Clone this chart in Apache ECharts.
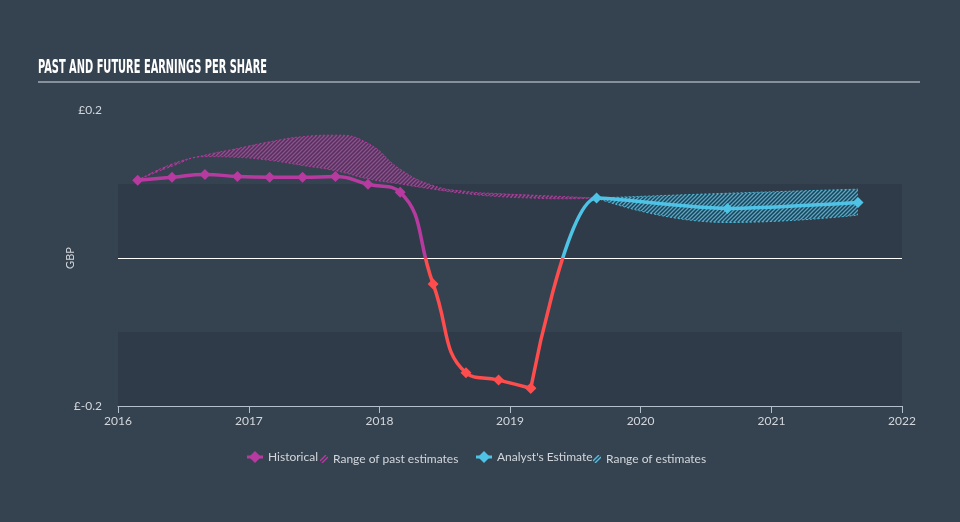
<!DOCTYPE html>
<html><head><meta charset="utf-8">
<script src="https://cdn.jsdelivr.net/npm/echarts@6/dist/echarts.min.js"></script>
<style>html,body{margin:0;padding:0;background:#35424f}#c{width:960px;height:522px}</style>
</head><body><div id="c"></div>
<script>
// ---- data ----
const histDates = ['2016-02-25','2016-05-31','2016-08-31','2016-11-30','2017-02-28','2017-05-31','2017-08-31','2017-11-30','2018-02-28','2018-05-31','2018-08-31','2018-11-30','2019-02-28'];
const histEPS   = [0.105,0.109,0.113,0.110,0.109,0.109,0.110,0.0997,0.089,-0.035,-0.155,-0.165,-0.176];
const pastRangeDates = ['2016-02-25','2016-05-31','2016-08-31','2016-11-30','2017-02-28','2017-05-31','2017-08-31','2017-11-30','2018-02-28','2018-05-31','2018-08-31','2018-11-30','2019-02-28','2019-05-31','2019-08-31'];
const pastRangeLow  = [0.105,0.124,0.137,0.136,0.132,0.125,0.118,0.107,0.100,0.093,0.087,0.083,0.081,0.080,0.081];
const pastRangeHigh = [0.105,0.127,0.139,0.148,0.157,0.164,0.166,0.155,0.120,0.098,0.090,0.087,0.085,0.083,0.081];
const estDates = ['2019-08-31','2020-08-31','2021-08-31'];
const estEPS   = [0.081,0.067,0.075];
const estLow   = [0.081,0.048,0.058];
const estHigh  = [0.081,0.0875,0.093];
const xMin = '2016-01-01', xMax = '2022-01-01';
const yLabelTicks = [-0.2,0.2];

// ---- helpers ----
const PURPLE='#b63a9f', RED='#ff4d4d', BLUE='#4fc3e6';
function hatch(color){const c=document.createElement('canvas');c.width=4;c.height=4;const g=c.getContext('2d');g.strokeStyle=color;g.lineWidth=1.3;g.beginPath();g.moveTo(0,4);g.lineTo(4,0);g.moveTo(-1,1);g.lineTo(1,-1);g.moveTo(3,5);g.lineTo(5,3);g.stroke();return c;}
function diamondIcon(color){const c=document.createElement('canvas');c.width=16;c.height=12;const g=c.getContext('2d');g.fillStyle=color;g.fillRect(0,4.5,16,3);g.beginPath();g.moveTo(8,0);g.lineTo(14,6);g.lineTo(8,12);g.lineTo(2,6);g.closePath();g.fill();return 'image://'+c.toDataURL();}
function hatchIcon(color){const c=document.createElement('canvas');c.width=8;c.height=8;const g=c.getContext('2d');g.strokeStyle=color;g.lineWidth=1.4;g.beginPath();g.moveTo(0,6);g.lineTo(6,0);g.moveTo(2,8);g.lineTo(8,2);g.stroke();return 'image://'+c.toDataURL();}

const hist = histDates.map((d,i)=>[d,histEPS[i]]);
const pastLow = pastRangeDates.map((d,i)=>[d,pastRangeLow[i]]);
const pastHigh = pastRangeDates.map((d,i)=>[d,pastRangeHigh[i]]);
const pastDiff = pastRangeDates.map((d,i)=>[d,pastRangeHigh[i]-pastRangeLow[i]]);
const est = [hist[hist.length-1]].concat(estDates.map((d,i)=>[d,estEPS[i]]));
const eLow = estDates.map((d,i)=>[d,estLow[i]]);
const eHigh = estDates.map((d,i)=>[d,estHigh[i]]);
const eDiff = estDates.map((d,i)=>[d,estHigh[i]-estLow[i]]);

// title scale
const TITLE='PAST AND FUTURE EARNINGS PER SHARE';
const TFONT='bold 19px "Liberation Sans Narrow", "DejaVu Sans Condensed", sans-serif';
const mc=document.createElement('canvas').getContext('2d');mc.font=TFONT;
const tScale=229/mc.measureText(TITLE).width;

const LEG_TEXT={color:'#d3d7dd',fontSize:12,fontFamily:'Lato, sans-serif'};
const EDGE={width:1,type:[2,2],opacity:0.9};
const chart=echarts.init(document.getElementById('c'),null,{renderer:'canvas'});
chart.setOption({
  backgroundColor:'#35424f',
  animation:false,
  grid:{left:118,right:58,top:110,bottom:116},
  xAxis:{type:'time',min:xMin,max:xMax,splitNumber:6,minInterval:365*24*3600*1000,
    axisLine:{show:true,onZero:false,lineStyle:{color:'#b4bfcc',width:1}},
    axisTick:{show:true,length:7,lineStyle:{color:'#b4bfcc'}},
    axisLabel:{color:'#d3d7dd',fontSize:12,fontFamily:'Lato, sans-serif',margin:9,fontWeight:'normal',
      showMinLabel:true,showMaxLabel:true,formatter:v=>String(new Date(v).getFullYear())},
    splitLine:{show:false}},
  yAxis:{type:'value',min:-0.2,max:0.2,interval:0.1,
    name:'GBP',nameLocation:'middle',nameGap:42,nameMoveOverlap:false,
    nameTextStyle:{color:'#d3d7dd',fontSize:11,fontFamily:'Lato, sans-serif'},
    axisLine:{show:false},axisTick:{show:false},
    axisLabel:{color:'#d3d7dd',fontSize:12,fontFamily:'Lato, sans-serif',margin:16,
      formatter:v=>yLabelTicks.some(t=>Math.abs(t-v)<1e-9)?'£'+v.toFixed(1):''},
    splitLine:{show:true,lineStyle:{color:['rgba(0,0,0,0)','rgba(0,0,0,0)','#ffffff','rgba(0,0,0,0)','rgba(0,0,0,0)'],width:1}},
    splitArea:{show:true,areaStyle:{color:['#2f3b48','#35424f']}}},
  visualMap:[
    {type:'piecewise',show:false,seriesIndex:6,dimension:1,pieces:[{gte:-0.5,lt:0,color:RED},{gte:0,lte:0.5,color:PURPLE}]},
    {type:'piecewise',show:false,seriesIndex:7,dimension:1,pieces:[{gte:-0.5,lt:0,color:RED},{gte:0,lte:0.5,color:BLUE}]}
  ],
  legend:[
    {left:247,top:451,padding:0,itemWidth:16,itemHeight:12,data:[{name:'Historical',icon:diamondIcon(PURPLE)}],textStyle:LEG_TEXT,selectedMode:false},
    {left:320,top:453,padding:0,itemWidth:8,itemHeight:8,data:[{name:'Range of past estimates',icon:hatchIcon(PURPLE)}],textStyle:LEG_TEXT,selectedMode:false},
    {left:476,top:451,padding:0,itemWidth:16,itemHeight:12,data:[{name:"Analyst's Estimate",icon:diamondIcon(BLUE)}],textStyle:LEG_TEXT,selectedMode:false},
    {left:593,top:453,padding:0,itemWidth:8,itemHeight:8,data:[{name:'Range of estimates',icon:hatchIcon(BLUE)}],textStyle:LEG_TEXT,selectedMode:false}
  ],
  graphic:[
    {type:'text',x:38,y:59,scaleX:tScale,style:{text:TITLE,x:0,y:0,fill:'#ffffff',font:TFONT,verticalAlign:'top'}},
    {type:'line',shape:{x1:38,y1:82,x2:920,y2:82},style:{stroke:'#a3abb4',lineWidth:1.5}}
  ],
  series:[
    {name:'past-low',type:'line',stack:'past',data:pastLow,smooth:true,symbol:'none',
      lineStyle:Object.assign({color:PURPLE},EDGE),z:1},
    {name:'Range of past estimates',type:'line',stack:'past',data:pastDiff,smooth:true,symbol:'none',
      itemStyle:{color:PURPLE},lineStyle:{width:0},
      areaStyle:{color:{image:hatch('#b23c9c'),repeat:'repeat'},opacity:1},z:1},
    {name:'past-high',type:'line',data:pastHigh,smooth:true,symbol:'none',
      lineStyle:Object.assign({color:PURPLE},EDGE),z:1},
    {name:'est-low',type:'line',stack:'est',data:eLow,smooth:true,symbol:'none',
      lineStyle:Object.assign({color:BLUE},EDGE),z:1},
    {name:'Range of estimates',type:'line',stack:'est',data:eDiff,smooth:true,symbol:'none',
      itemStyle:{color:BLUE},lineStyle:{width:0},
      areaStyle:{color:{image:hatch('#3fb0d6'),repeat:'repeat'},opacity:1},z:1},
    {name:'est-high',type:'line',data:eHigh,smooth:true,symbol:'none',
      lineStyle:Object.assign({color:BLUE},EDGE),z:1},
    {name:'Historical',type:'line',data:hist,smooth:true,symbol:'diamond',symbolSize:11,
      itemStyle:{color:PURPLE},lineStyle:{width:3.5},z:3},
    {name:"Analyst's Estimate",type:'line',data:est,smooth:0.25,symbol:'diamond',symbolSize:11,
      itemStyle:{color:BLUE},lineStyle:{width:3.5},z:3}
  ]
});
</script></body></html>
